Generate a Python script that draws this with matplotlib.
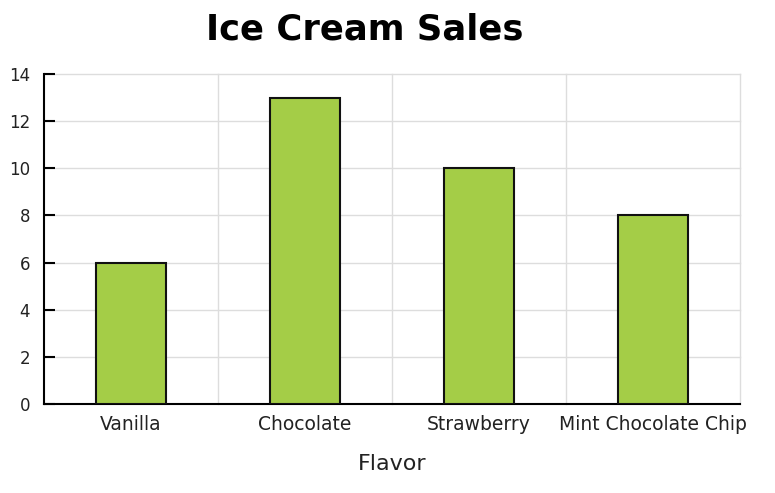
import matplotlib.pyplot as plt
import numpy as np

plt.rcParams['font.family'] = ['DejaVu Sans']

flavors = ["Vanilla", "Chocolate", "Strawberry", "Mint Chocolate Chip"]
sales = [6, 13, 10, 8]
y_ticks = [0, 2, 4, 6, 8, 10, 12, 14]

fig = plt.figure(figsize=(7.75, 4.93), dpi=100)
ax = fig.add_axes([44 / 775, 1 - 404 / 493, 696 / 775, 330 / 493])

x = np.arange(len(flavors))
ax.bar(x, sales, width=0.4, color="#a4cd47", edgecolor="#111111", linewidth=1.5, zorder=3)

ax.set_xlim(-0.5, len(flavors) - 0.5)
ax.set_ylim(0, 14)
ax.set_yticks(y_ticks)
ax.set_xticks(x)
ax.set_xticklabels(flavors, fontsize=13.5, color="#222222")
ax.tick_params(axis="x", length=0, pad=8)
ax.tick_params(axis="y", direction="in", length=8, width=1.5, labelsize=12, labelcolor="#222222", pad=10)

# grid: horizontal at ticks, vertical at category boundaries
for yv in y_ticks[1:]:
    ax.axhline(yv, color="#dddddd", linewidth=1, zorder=0, clip_on=False)
for xv in np.arange(0.5, len(flavors), 1.0):
    ax.axvline(xv, color="#dddddd", linewidth=1, zorder=0, clip_on=False)

for side in ["top", "right"]:
    ax.spines[side].set_visible(False)
ax.spines["left"].set_linewidth(1.5)
ax.spines["bottom"].set_linewidth(1.5)

ax.set_xlabel("Flavor", fontsize=16, color="#222222", labelpad=14)
fig.suptitle("Ice Cream Sales", fontsize=25.5, fontweight="bold", x=0.47, y=0.975)

fig.savefig("out.png", dpi=100)
